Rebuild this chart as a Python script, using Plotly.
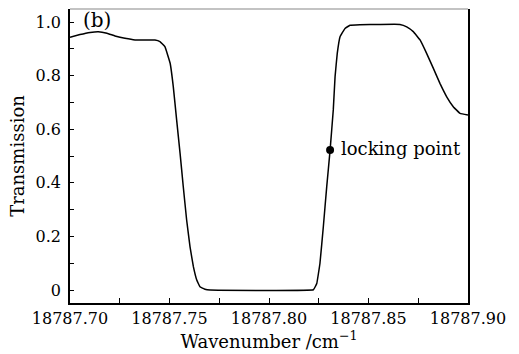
import plotly.graph_objects as go

# Transmission curve
wavenumber = [18787.7000, 18787.7050, 18787.7101, 18787.7142, 18787.7186, 18787.7226,
              18787.7276, 18787.7327, 18787.7427, 18787.7452, 18787.7477, 18787.7503,
              18787.7519, 18787.7536, 18787.7553, 18787.7569, 18787.7586, 18787.7603,
              18787.7620, 18787.7637, 18787.7653, 18787.7678, 18787.7704, 18787.8223,
              18787.8240, 18787.8256, 18787.8273, 18787.8290, 18787.8307, 18787.8323,
              18787.8332, 18787.8343, 18787.8357, 18787.8382, 18787.8407, 18787.8457,
              18787.8558, 18787.8658, 18787.8692, 18787.8725, 18787.8759, 18787.8792,
              18787.8826, 18787.8859, 18787.8893, 18787.8926, 18787.8960, 18787.9000]
transmission = [0.943, 0.953, 0.961, 0.964, 0.958, 0.948,
                0.939, 0.933, 0.933, 0.927, 0.908, 0.847,
                0.759, 0.634, 0.511, 0.387, 0.262, 0.162,
                0.087, 0.037, 0.012, 0.003, 0.000, 0.001,
                0.024, 0.099, 0.236, 0.385, 0.522, 0.672,
                0.796, 0.883, 0.945, 0.976, 0.988, 0.990,
                0.991, 0.991, 0.982, 0.964, 0.933, 0.883,
                0.827, 0.771, 0.721, 0.684, 0.659, 0.653]

lock_x = [18787.8307]
lock_y = [0.522]
lock_label = "locking point"
panel_label = "(b)"

x_tickvals = [18787.70, 18787.75, 18787.80, 18787.85, 18787.90]
x_ticktext = ["18787.70", "18787.75", "18787.80", "18787.85", "18787.90"]
y_tickvals = [0, 0.2, 0.4, 0.6, 0.8, 1.0]
y_ticktext = ["0", "0.2", "0.4", "0.6", "0.8", "1.0"]

FONT = "DejaVu Serif"

fig = go.Figure()
fig.add_trace(go.Scatter(x=wavenumber, y=transmission, mode="lines",
                         line=dict(color="black", width=1.5, shape="spline", smoothing=0.2),
                         showlegend=False, hoverinfo="skip"))
fig.add_trace(go.Scatter(x=lock_x, y=lock_y, mode="markers",
                         marker=dict(color="black", size=8),
                         showlegend=False))
fig.add_annotation(x=lock_x[0], y=lock_y[0], text=lock_label, showarrow=False,
                   xanchor="left", yanchor="middle", xshift=9, yshift=2,
                   font=dict(family=FONT, size=18, color="black"))

fig.add_annotation(x=0.067, y=1.01, xref="paper", yref="paper", text=panel_label,
                   showarrow=False, xanchor="center", yanchor="top",
                   font=dict(family=FONT, size=20, color="black"))

fig.add_shape(type="line", xref="paper", yref="paper", x0=0, x1=1, y0=1, y1=1,
              line=dict(color="#888888", width=1.2))

fig.update_layout(
    width=519, height=354,
    margin=dict(l=70, r=51, t=9, b=51),
    paper_bgcolor="white", plot_bgcolor="white",
    font=dict(family=FONT, size=16, color="black"),
)
fig.update_xaxes(
    range=[18787.70, 18787.90], tickvals=x_tickvals, ticktext=x_ticktext,
    ticks="inside", ticklen=5, tickcolor="black", tickwidth=1,
    minor=dict(dtick=0.025, tick0=18787.70, ticks="inside", ticklen=5, tickcolor="black"),
    showline=True, linecolor="black", linewidth=1.5, mirror=False,
    showgrid=False, zeroline=False,
    title=dict(text="Wavenumber /cm<sup>−1</sup>", standoff=0, font=dict(size=18)),
    tickfont=dict(size=16),
)
fig.update_yaxes(
    range=[-0.0485, 1.0485], tickvals=y_tickvals, ticktext=y_ticktext,
    ticks="inside", ticklen=4, tickcolor="black", tickwidth=1,
    minor=dict(dtick=0.1, tick0=0, ticks="inside", ticklen=4, tickcolor="black"),
    showline=True, linecolor="black", linewidth=1.5, mirror=True,
    showgrid=False, zeroline=False, ticklabelstandoff=4,
    title=dict(text="Transmission", standoff=6, font=dict(size=18)),
    tickfont=dict(size=16),
)

fig.write_html("out.html")
